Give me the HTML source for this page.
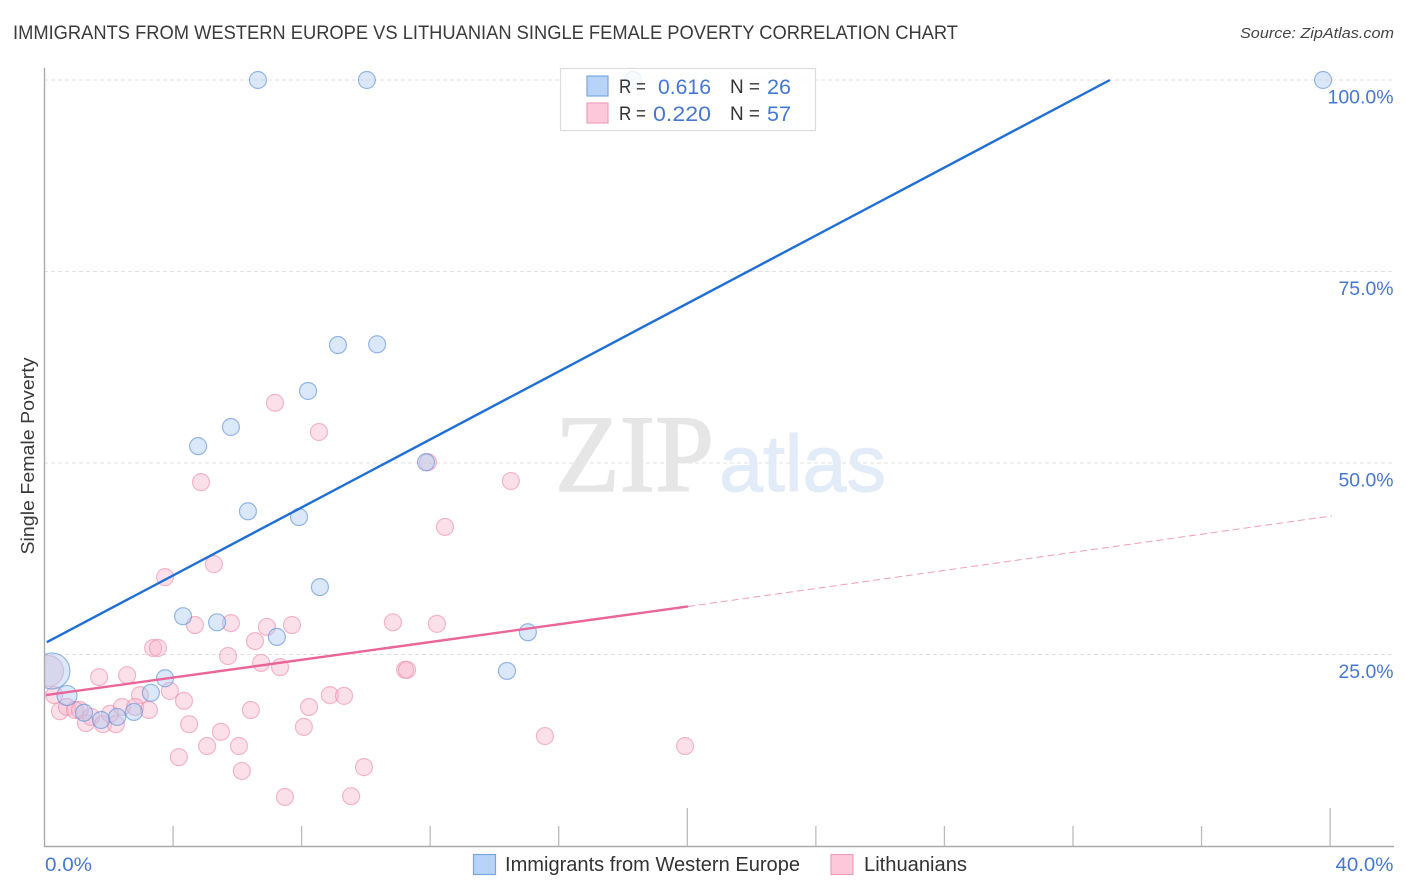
<!DOCTYPE html>
<html lang="en">
<head>
<meta charset="utf-8">
<title>Immigrants from Western Europe vs Lithuanian Single Female Poverty Correlation Chart</title>
<style>
html,body{margin:0;padding:0;background:#fff;}
svg{display:block;font-family:"Liberation Sans",sans-serif;}
</style>
</head>
<body>
<svg id="chart" width="1406" height="892" viewBox="0 0 1406 892" xmlns="http://www.w3.org/2000/svg">
  <defs>
    <clipPath id="plot-clip"><rect x="45" y="60" width="1350" height="786"/></clipPath>
  </defs>
  <rect x="0" y="0" width="1406" height="892" fill="#ffffff"/>
  <text x="13" y="39" font-size="19" fill="#3a3a3a" textLength="945" lengthAdjust="spacingAndGlyphs">IMMIGRANTS FROM WESTERN EUROPE VS LITHUANIAN SINGLE FEMALE POVERTY CORRELATION CHART</text>
  <text x="1394" y="38" font-size="15" font-style="italic" fill="#444444" text-anchor="end" textLength="154" lengthAdjust="spacingAndGlyphs">Source: ZipAtlas.com</text>
  <g id="grid"></g>
  <g>
    <text x="555" y="491" font-family="'Liberation Serif',serif" font-size="110" fill="#e6e6e6" stroke="#e6e6e6" stroke-width="1.6" textLength="159" lengthAdjust="spacingAndGlyphs">ZIP</text>
    <text x="719" y="491" font-size="80" fill="#e2ebf8" stroke="#e2ebf8" stroke-width="1" textLength="167" lengthAdjust="spacingAndGlyphs">atlas</text>
  </g>
  <g id="dots-pink" clip-path="url(#plot-clip)"></g>
  <g id="dots-blue" clip-path="url(#plot-clip)"></g>
  <g id="trends"></g>
  <g id="axes"></g>
  <text transform="translate(34,456) rotate(-90)" font-size="18" fill="#3a3a3a" text-anchor="middle" textLength="197" lengthAdjust="spacingAndGlyphs">Single Female Poverty</text>

  <g>
    <rect x="560.5" y="68.5" width="255" height="62" fill="#ffffff" fill-opacity="0.8" stroke="#dddddd" stroke-width="1.2"/>
    <rect x="587" y="76" width="21" height="20" fill="#b7d3f7" stroke="#7aa6e0" stroke-width="1.2"/>
    <rect x="587" y="103" width="21" height="20" fill="#fcc8da" stroke="#f0a0bc" stroke-width="1.2"/>
    <text x="619" y="93" font-size="19" fill="#333333" textLength="27" lengthAdjust="spacingAndGlyphs">R =</text>
    <text x="658" y="94" font-size="21" fill="#4678d2" textLength="53" lengthAdjust="spacingAndGlyphs">0.616</text>
    <text x="730" y="93" font-size="19" fill="#333333" textLength="30" lengthAdjust="spacingAndGlyphs">N =</text>
    <text x="767" y="94" font-size="21" fill="#4678d2" textLength="24" lengthAdjust="spacingAndGlyphs">26</text>
    <text x="619" y="120" font-size="19" fill="#333333" textLength="27" lengthAdjust="spacingAndGlyphs">R =</text>
    <text x="653" y="121" font-size="21" fill="#4678d2" textLength="58" lengthAdjust="spacingAndGlyphs">0.220</text>
    <text x="730" y="120" font-size="19" fill="#333333" textLength="30" lengthAdjust="spacingAndGlyphs">N =</text>
    <text x="767" y="121" font-size="21" fill="#4678d2" textLength="24" lengthAdjust="spacingAndGlyphs">57</text>
  </g>

  <g>
    <g>
      <rect x="473.5" y="854.5" width="22" height="20" fill="#b7d3f7" stroke="#7aa6e0" stroke-width="1.2"/>
      <text x="505" y="871" font-size="20" fill="#333333" textLength="295" lengthAdjust="spacingAndGlyphs">Immigrants from Western Europe</text>
    </g>
    <g>
      <rect x="831" y="854.5" width="22" height="20" fill="#fcc8da" stroke="#f0a0bc" stroke-width="1.2"/>
      <text x="864" y="871" font-size="20" fill="#333333" textLength="103" lengthAdjust="spacingAndGlyphs">Lithuanians</text>
    </g>
  </g>
</svg>
<script>
// Percent tick values
const yTicks = [25, 50, 75, 100];
const xTicks = [4, 8, 12, 16, 20, 24, 28, 32, 36, 40];
const xMajorTicks = [20, 40];
const xEndLabels = [0, 40];

// Immigrants from Western Europe: x %, y %, relative weight
const blueX = [6.64,10.03,18.31,39.78,9.13,10.35,8.2,5.8,4.78,11.87,6.33,7.92,8.57,4.31,5.37,7.23,15.04,14.39,3.75,3.31,0.7,1.23,1.76,2.26,2.78,0.23];
const blueY = [100,100,100,100,65.4,65.5,59.4,54.7,52.2,50.1,43.7,42.95,33.8,30.0,29.2,27.3,27.9,22.85,21.9,20.0,19.65,17.4,16.45,16.85,17.5,22.85];
const blueWeight = [1,1,1,1,1,1,1,1,1,1,1,1,1,1,1,1,1,1,1,1,1.4,1,1,1,1,4.5];

// Lithuanians: x %, y %, relative weight
const pinkX = [4.68,5.8,6.92,7.7,10.84,6.55,3.38,3.53,5.71,6.74,7.33,1.7,2.57,11.22,11.28,2.97,3.9,4.34,0.3,0.48,0.7,0.95,1.1,1.29,1.45,1.82,2.04,2.22,2.41,2.82,3.25,6.42,8.23,8.88,9.32,4.5,8.07,5.49,5.06,6.05,4.18,9.94,6.14,7.48,9.54,7.17,8.54,4.87,14.51,11.93,12.46,5.27,3.75,12.21,15.57,19.93,0.11];
const pinkY = [28.85,29.1,28.6,28.85,29.2,26.75,25.85,25.85,24.8,23.9,23.35,22.05,22.3,23.0,23.0,19.7,20.25,18.95,19.7,17.6,18.15,17.75,17.75,16.05,16.85,15.9,17.25,15.9,18.15,18.15,17.75,17.75,18.15,19.7,19.6,15.9,15.55,14.9,13.05,13.05,11.6,10.3,9.8,6.4,6.5,57.85,54.05,47.5,47.65,50.1,41.65,36.8,35.1,29.0,14.35,13.05,22.85];
const pinkWeight = [1,1,1,1,1,1,1,1,1,1,1,1,1,1,1,1,1,1,1,1,1,1,1,1,1,1,1,1,1,1,1,1,1,1,1,1,1,1,1,1,1,1,1,1,1,1,1,1,1,1,1,1,1,1,1,1,3.3];

// Trend lines: x %, y %
const blueTrendX = [0.07, 33.15];
const blueTrendY = [26.6, 100];
const pinkTrendX = [0.05, 20.02];
const pinkTrendY = [19.7, 31.27];
const pinkTrendExtX = [20.02, 40.06];
const pinkTrendExtY = [31.27, 43.1];

const NS = 'http://www.w3.org/2000/svg';
const sx = v => 44.5 + v * 32.14;
const sy = v => 846 - v * 7.66;
const baseRadius = 8.5;

function mk(tag, attrs, parent) {
  const el = document.createElementNS(NS, tag);
  for (const k in attrs) el.setAttribute(k, attrs[k]);
  parent.appendChild(el);
  return el;
}

const grid = document.getElementById('grid');
yTicks.forEach(t => {
  const line = mk('line', {x1: 44, x2: 1394, y1: sy(t), y2: sy(t), stroke: '#e0e0e0', 'stroke-width': 1, 'stroke-dasharray': '4 3'}, grid);
  
  
});

function drawDots(groupId, xs, ys, ws, fill, stroke, label) {
  const g = document.getElementById(groupId);
  xs.forEach((x, i) => {
    const c = mk('circle', {cx: sx(x), cy: sy(ys[i]), r: baseRadius * Math.sqrt(ws[i]), fill: fill, 'fill-opacity': 0.42, stroke: stroke, 'stroke-opacity': 0.62, 'stroke-width': 1.2}, g);
    
    
  });
}
drawDots('dots-pink', pinkX, pinkY, pinkWeight, '#f9b4ca', '#ec8fae', 'lithuanians-point');
drawDots('dots-blue', blueX, blueY, blueWeight, '#a7c8f2', '#5c8ed8', 'western-europe-point');

const trends = document.getElementById('trends');
const blueLine = mk('line', {x1: sx(blueTrendX[0]), y1: sy(blueTrendY[0]), x2: sx(blueTrendX[1]), y2: sy(blueTrendY[1]), stroke: '#1f6fd6', 'stroke-width': 2.4}, trends);


const pinkLine = mk('line', {x1: sx(pinkTrendX[0]), y1: sy(pinkTrendY[0]), x2: sx(pinkTrendX[1]), y2: sy(pinkTrendY[1]), stroke: '#e9659a', 'stroke-width': 2.4}, trends);


const pinkExt = mk('line', {x1: sx(pinkTrendExtX[0]), y1: sy(pinkTrendExtY[0]), x2: sx(pinkTrendExtX[1]), y2: sy(pinkTrendExtY[1]), stroke: '#ea7ca6', 'stroke-width': 1, 'stroke-opacity': 0.75, 'stroke-dasharray': '7 4'}, trends);



const axes = document.getElementById('axes');
const yAxis = mk('line', {x1: 44.5, x2: 44.5, y1: 68, y2: 846.5, stroke: '#aaaaaa', 'stroke-width': 1.4}, axes);


const xAxis = mk('line', {x1: 44, x2: 1394, y1: 846.5, y2: 846.5, stroke: '#aaaaaa', 'stroke-width': 1.4}, axes);



xTicks.forEach(t => {
  const top = xMajorTicks.includes(t) ? 808 : 826;
  const tick = mk('line', {x1: sx(t), x2: sx(t), y1: top, y2: 846, stroke: '#bbbbbb', 'stroke-width': 1.3}, axes);
  
  
});

yTicks.forEach(t => {
  const s = t.toFixed(1) + '%';
  const label = mk('text', {x: 1393.5, y: sy(t) + 23.5, 'font-size': 19, fill: '#4678d2', 'text-anchor': 'end', textLength: t === 100 ? 66 : 55, lengthAdjust: 'spacingAndGlyphs'}, axes);
  label.textContent = s;
  
  
});

xEndLabels.forEach(t => {
  const isStart = t === 0;
  const label = mk('text', {x: isStart ? 45 : 1393.5, y: 871, 'font-size': 19, fill: '#4678d2', 'text-anchor': isStart ? 'start' : 'end', textLength: isStart ? 47 : 58, lengthAdjust: 'spacingAndGlyphs'}, axes);
  label.textContent = t.toFixed(1) + '%';
  
  
});
</script>
</body>
</html>
